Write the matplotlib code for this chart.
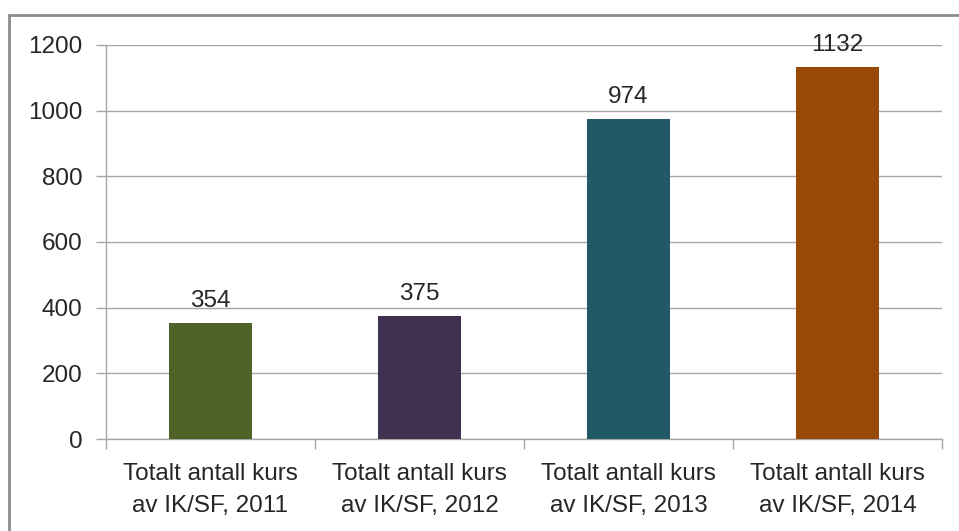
import matplotlib
matplotlib.use('Agg')
import matplotlib.pyplot as plt
import matplotlib.patches as mpatches
import numpy as np

# ── Data ──
LABELS = ['Totalt antall kurs\nav IK/SF, 2011',
          'Totalt antall kurs\nav IK/SF, 2012',
          'Totalt antall kurs\nav IK/SF, 2013',
          'Totalt antall kurs\nav IK/SF, 2014']
VALUES = [354, 375, 974, 1132]
COLORS = ['#4F6228', '#403151', '#215967', '#984807']
YTICKS = [0, 200, 400, 600, 800, 1000, 1200]

FONT = 'Liberation Sans'
FS   = 17.5
GRID = '#A6A6A6'
TXT  = '#262626'

fig = plt.figure(figsize=(9.59, 5.31), dpi=100)
fig.patch.set_facecolor('white')

# outer chart border (cut off at right/bottom like the screenshot)
fig.patches.append(mpatches.Rectangle(
    (9 / 959, -0.1), 1.2, (531 - 15) / 531 + 0.1,
    transform=fig.transFigure, fill=False, edgecolor='#8C8C8C', linewidth=2.0))

ax = fig.add_axes([106 / 959, (531 - 439) / 531, 836 / 959, 394 / 531])

x = np.arange(len(VALUES))
ax.bar(x, VALUES, width=0.4, color=COLORS, zorder=3)

for xi, v in zip(x, VALUES):
    ax.annotate(str(v), (xi, v), xytext=(0, 8), textcoords='offset points',
                ha='center', va='bottom', fontsize=FS, fontfamily=FONT, color=TXT)

ax.set_xlim(-0.5, len(VALUES) - 0.5)
ax.set_ylim(0, 1200)
ax.set_yticks(YTICKS)
ax.set_yticklabels([str(t) for t in YTICKS], fontsize=FS, fontfamily=FONT, color=TXT)
ax.yaxis.grid(True, color=GRID, linewidth=1.0, zorder=0)
ax.tick_params(axis='y', length=7, width=1, color=GRID, pad=10)

ax.set_xticks(x)
ax.set_xticklabels(LABELS, fontsize=FS, fontfamily=FONT, color=TXT, linespacing=1.6)
ax.tick_params(axis='x', which='major', length=0, pad=17)
ax.set_xticks(np.arange(-0.5, len(VALUES)), minor=True)
ax.tick_params(axis='x', which='minor', length=7, width=1, color=GRID)

for s in ['top', 'right']:
    ax.spines[s].set_visible(False)
for s in ['left', 'bottom']:
    ax.spines[s].set_color(GRID)
    ax.spines[s].set_linewidth(1.0)

plt.savefig('out.png', dpi=100, facecolor='white')
plt.close()
